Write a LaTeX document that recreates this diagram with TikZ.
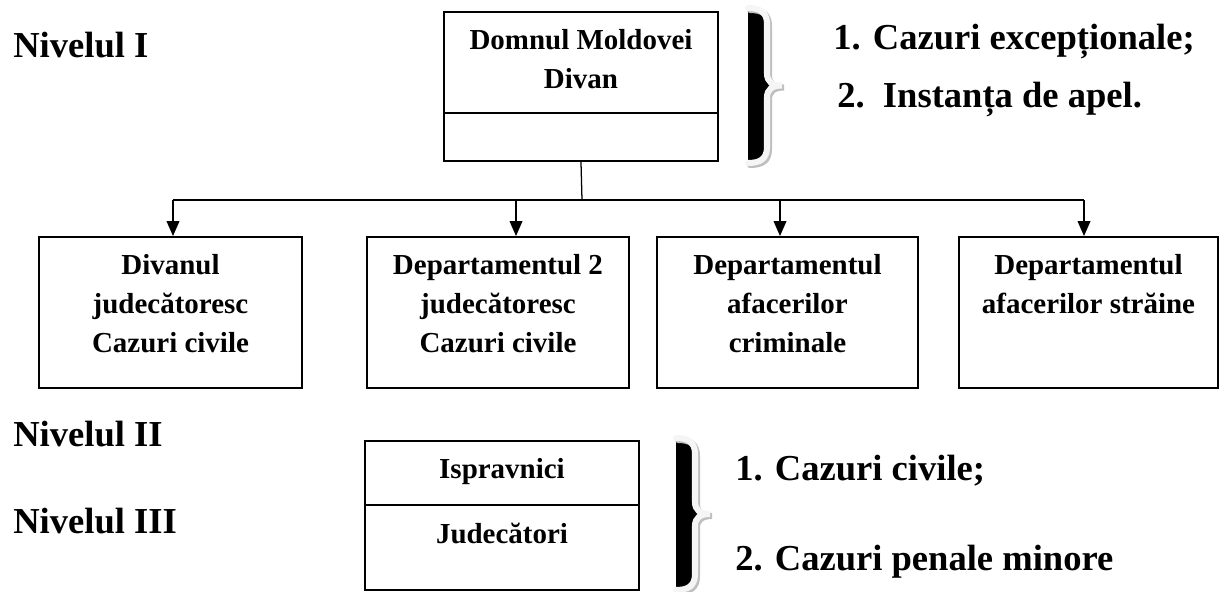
\documentclass[tikz,border=0pt]{standalone}
\usepackage{fontspec}
\setmainfont{Liberation Serif}
\usetikzlibrary{arrows.meta,calc}

\newcommand{\px}{0.025cm}
% right brace outline: left x, top y, bottom y
\newcommand{\bracecurve}[3]{%
  ({#1},{#2}) .. controls ({#1+12},{#2}) and ({#1+19},{#2+4}) .. ({#1+19},{#2+16})
  -- ({#1+19},{(#2+#3)/2-12}) .. controls ({#1+19},{(#2+#3)/2-4}) and ({#1+24},{(#2+#3)/2}) .. ({#1+34},{(#2+#3)/2})
  .. controls ({#1+24},{(#2+#3)/2}) and ({#1+19},{(#2+#3)/2+4}) .. ({#1+19},{(#2+#3)/2+12})
  -- ({#1+19},{#3-16}) .. controls ({#1+19},{#3-4}) and ({#1+12},{#3}) .. ({#1},{#3})}

\tikzset{
  boxnode/.style={draw, line width=1.4pt, inner sep=0pt, anchor=north west},
  boxtext/.style={font=\fontsize{20.6}{27.7}\selectfont\bfseries, align=center, inner sep=0pt, anchor=north},
  bigtext/.style={font=\fontsize{26}{31}\selectfont\bfseries, inner sep=0pt, anchor=base west},
  link/.style={line width=0.9pt},
  arrowline/.style={link, -{Triangle[length=10.5pt,width=9pt]}},
  divline/.style={line width=1.1pt}
}

\begin{document}
\begin{tikzpicture}[x=\px, y=-\px]
\useasboundingbox (0,0) rectangle (1219,592);

% levels
\node[bigtext] (niv1) at (13,57) {Nivelul I};
\node[bigtext] (niv2) at (13,446) {Nivelul II};
\node[bigtext] (niv3) at (13,533) {Nivelul III};

% top box
\node[boxnode, minimum width=274*\px, minimum height=149*\px] (top) at (443,11) {};
\draw[divline] (top.west |- 0,113) -- (top.east |- 0,113);
\node[boxtext] (toptxt) at ($(top.north)+(0,18)$) {Domnul Moldovei\\Divan};

% second row
\node[boxnode, minimum width=263*\px, minimum height=151*\px] (b1) at (38,236) {};
\node[boxnode, minimum width=262*\px, minimum height=151*\px] (b2) at (366,236) {};
\node[boxnode, minimum width=261*\px, minimum height=151*\px] (b3) at (656,236) {};
\node[boxnode, minimum width=259*\px, minimum height=151*\px] (b4) at (958,236) {};
\node[boxtext] (t1) at ($(b1.north)+(0,18)$) {Divanul\\judecătoresc\\Cazuri civile};
\node[boxtext] (t2) at ($(b2.north)+(0,18)$) {Departamentul 2\\judecătoresc\\Cazuri civile};
\node[boxtext] (t3) at ($(b3.north)+(0,18)$) {Departamentul\\afacerilor\\criminale};
\node[boxtext] (t4) at ($(b4.north)+(0,18)$) {Departamentul\\afacerilor străine};

% connectors
\coordinate (hub) at (582,200);
\coordinate (j1) at (173,200);
\coordinate (j2) at (516,200);
\coordinate (j3) at (780,200);
\coordinate (j4) at (1084,200);
\draw[link] (top.south) -- (hub);
\draw[link] (j1) -- (j4);
\foreach \j/\b in {j1/b1, j2/b2, j3/b3, j4/b4}
  \draw[arrowline] (\j) -- (\j |- \b.north);

% bottom box
\node[boxnode, minimum width=274*\px, minimum height=149*\px] (bot) at (364,440) {};
\draw[divline] (bot.west |- 0,505) -- (bot.east |- 0,505);
\node[boxtext] (isp) at ($(bot.north)+(0,18)$) {Ispravnici};
\node[boxtext] (jud) at ($(bot.north |- 0,505)+(0,18)$) {Judecători};

% braces
\foreach \bx/\bt/\bb in {748/8/163, 676/438/590}
{
  \fill[black] \bracecurve{\bx}{\bt}{\bb} -- cycle;
  \draw[gray!50, line width=4.3pt, line cap=round, shift={(2,2)}] \bracecurve{\bx}{\bt}{\bb};
  \draw[gray!8, line width=4.3pt, line cap=round] \bracecurve{\bx}{\bt}{\bb};
}

% competences
\node[bigtext] (c1) at (833,50) {1. Cazuri excepționale;};
\node[bigtext] (c2) at (837,107) {2.\ \ Instanța de apel.};
\node[bigtext] (c3) at (735,480) {1. Cazuri civile;};
\node[bigtext] (c4) at (735,570) {2. Cazuri penale minore};
\end{tikzpicture}
\end{document}
